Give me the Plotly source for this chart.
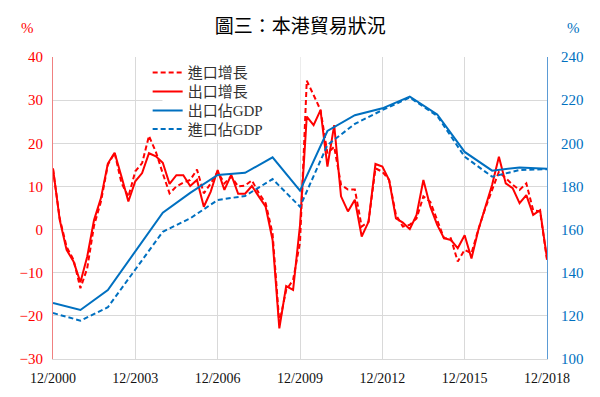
import pandas as pd
import plotly.graph_objects as go

# Quarterly growth (%) Q4 2000 .. Q4 2018
quarters = pd.date_range("2000-12-31", periods=73, freq="QE")
export_growth = [14.2, 2.2, -4.7, -7.4, -12.2, -6.3, 2.2, 7.3, 15.3, 17.8,
                 12.3, 6.5, 11.2, 13.1, 17.7, 17.0, 15.5, 10.6, 12.6, 12.6,
                 10.1, 11.5, 5.3, 8.8, 13.8, 9.2, 12.7, 8.3, 8.3, 10.1,
                 7.7, 5.3, -2.4, -22.9, -13.1, -14.0, 1.0, 26.2, 24.2, 27.7,
                 14.6, 24.2, 7.7, 4.2, 6.9, -1.6, 1.8, 15.2, 14.6, 11.5,
                 2.6, 1.6, 0.1, 3.4, 11.5, 5.3, 1.1, -2.0, -2.4, -4.3,
                 -1.3, -6.7, -0.1, 5.3, 10.4, 16.9, 10.7, 9.6, 6.1, 8.0,
                 3.4, 4.5, -6.7]
import_growth = [14.0, 2.5, -4.0, -7.0, -13.6, -9.0, 0.9, 6.5, 15.0, 17.8,
                 10.8, 7.6, 13.5, 15.4, 21.7, 18.0, 13.0, 8.4, 10.0, 10.9,
                 11.5, 13.9, 8.4, 10.7, 13.4, 10.7, 12.3, 10.0, 10.2, 11.4,
                 8.5, 6.1, -0.9, -21.7, -14.0, -11.7, -3.0, 34.5, 31.2, 27.7,
                 17.7, 19.2, 10.4, 9.3, 9.3, 0.7, 1.8, 14.2, 13.4, 11.5,
                 3.4, 0.7, 1.1, 2.6, 7.7, 6.4, 2.2, -2.0, -2.0, -7.4,
                 -4.7, -5.5, 0.0, 4.9, 9.2, 13.4, 11.9, 10.4, 9.2, 10.7,
                 4.5, 4.2, -7.0]

# Annual ratio to GDP (%) Dec 2000 .. Dec 2018
years = pd.date_range("2000-12-31", periods=19, freq="YE")
export_gdp = [126.0, 122.7, 132.0, 150.0, 167.8, 177.0, 185.3, 186.3, 193.5, 178.0,
              205.7, 213.0, 216.2, 221.6, 213.4, 196.0, 187.3, 188.8, 188.2]
import_gdp = [121.3, 117.8, 124.0, 141.5, 159.0, 165.2, 173.7, 175.6, 183.4, 170.6,
              199.2, 209.0, 215.4, 221.2, 212.7, 193.8, 184.5, 187.6, 188.0]

tick_dates = ["2000-12-31", "2003-12-31", "2006-12-31", "2009-12-31",
              "2012-12-31", "2015-12-31", "2018-12-31"]
tick_text = ["12/2000", "12/2003", "12/2006", "12/2009", "12/2012", "12/2015", "12/2018"]

RED = "#ff0000"
BLUE = "#0070c0"
SERIF = "Liberation Serif, Noto Sans CJK TC, serif"
DASH = "5px,3px"

fig = go.Figure()
fig.add_trace(go.Scatter(x=years, y=export_gdp, name="出口佔GDP", yaxis="y2", showlegend=True,
                         mode="lines", line=dict(color=BLUE, width=2), legend="legend3"))
fig.add_trace(go.Scatter(x=years, y=import_gdp, name="進口佔GDP", yaxis="y2", showlegend=True,
                         mode="lines", line=dict(color=BLUE, width=2, dash=DASH), legend="legend4"))
fig.add_trace(go.Scatter(x=quarters, y=import_growth, name="進口增長", showlegend=True,
                         mode="lines", line=dict(color=RED, width=2, dash=DASH), legend="legend"))
fig.add_trace(go.Scatter(x=quarters, y=export_growth, name="出口增長", showlegend=True,
                         mode="lines", line=dict(color=RED, width=2), legend="legend2"))

legend_common = dict(x=0.1916, xanchor="left", yanchor="middle",
                     bgcolor="rgba(0,0,0,0)", borderwidth=0, itemwidth=30,
                     font=dict(family=SERIF, size=15, color="#333333"))

fig.update_layout(
    width=600, height=397,
    showlegend=True,
    margin=dict(l=38, r=61, t=49, b=46),
    paper_bgcolor="white", plot_bgcolor="white",
    title=dict(text="圖三：本港貿易狀況", x=0.487, xanchor="center", y=0.955, yanchor="middle",
               font=dict(family="Noto Sans CJK TC", size=19, color="#000000")),
    xaxis=dict(type="date", range=["2000-12-31", "2018-12-31"],
               tickvals=tick_dates, ticktext=tick_text,
               showgrid=True, gridcolor="#d9d9d9", gridwidth=1,
               showline=True, linecolor="#d9d9d9", ticks="", ticklabelstandoff=6,
               tickfont=dict(family=SERIF, size=14, color="#111111")),
    yaxis=dict(range=[-30, 40], dtick=10, showgrid=True, gridcolor="#d9d9d9",
               zeroline=False, showline=True, linecolor="#f08080", ticks="",
               ticklabelstandoff=6,
               tickfont=dict(family=SERIF, size=15, color=RED)),
    yaxis2=dict(range=[100, 240], dtick=20, overlaying="y", side="right",
                showgrid=False, zeroline=False, showline=True, linecolor="#5b9bd5",
                ticks="", ticklabelstandoff=10,
                tickfont=dict(family=SERIF, size=15, color=BLUE)),
    legend=dict(y=0.948, **legend_common),
    legend2=dict(y=0.885, **legend_common),
    legend3=dict(y=0.822, **legend_common),
    legend4=dict(y=0.761, **legend_common),
    shapes=[dict(type="rect", xref="paper", yref="paper", x0=0.2216, x1=0.501,
                 y0=0.725, y1=1.0, fillcolor="white", line=dict(width=0), layer="above")],
    annotations=[
        dict(text="%", xref="paper", yref="paper", x=-0.052, y=1.096, showarrow=False,
             xanchor="center", yanchor="middle", font=dict(family=SERIF, size=15, color=RED)),
        dict(text="%", xref="paper", yref="paper", x=1.054, y=1.096, showarrow=False,
             xanchor="center", yanchor="middle", font=dict(family=SERIF, size=15, color=BLUE)),
    ],
)

fig.write_html("out.html")
